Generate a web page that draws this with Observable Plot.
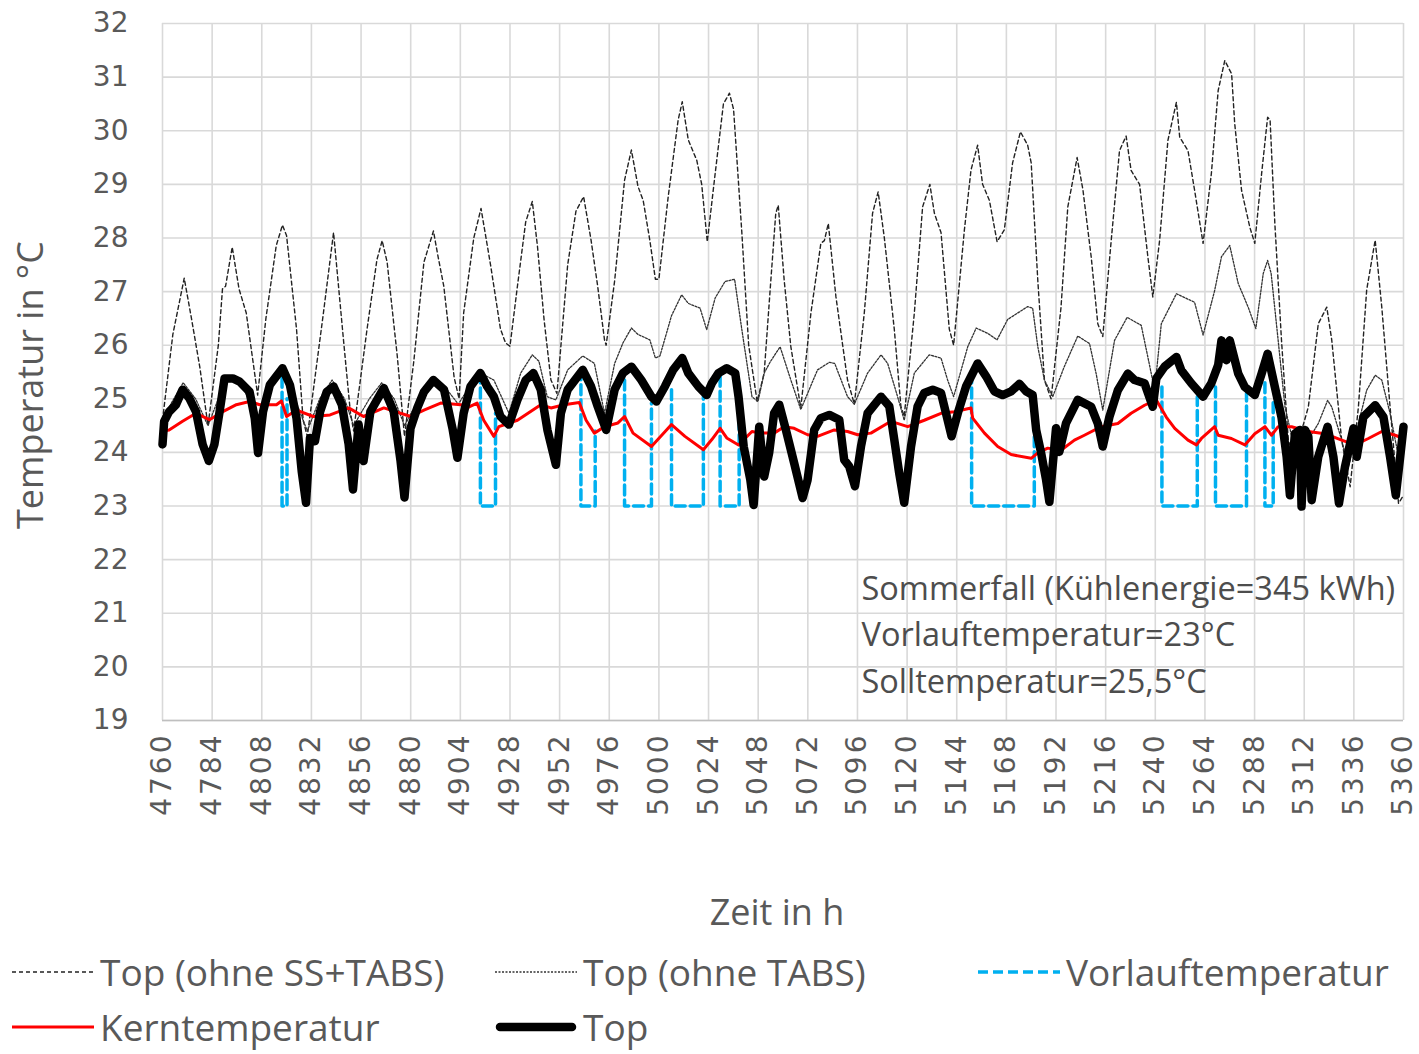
<!DOCTYPE html>
<html>
<head>
<meta charset="utf-8">
<script src="https://cdn.jsdelivr.net/npm/d3@7"></script>
<script src="https://cdn.jsdelivr.net/npm/@observablehq/plot@0.6"></script>
<style>
  body { margin: 0; background: #fff; }
  #chart { width: 1419px; }
  #chart svg { display: block; }
  g[aria-label="x-axis tick label"] text { letter-spacing: 3px; }
  .legend { position: relative; width: 1419px; height: 114px; font-family: "Open Sans", sans-serif; font-size: 37px; line-height: 40px; color: #595959; }
  .legend .item { position: absolute; display: flex; align-items: center; height: 40px; white-space: nowrap; }
  .legend svg { display: block; margin-right: 6px; }
</style>
</head>
<body>
<div id="chart"></div>
<script>
// Simulated hourly temperatures, summer case (hours 4760–5360)
const xTicks = d3.range(4760, 5361, 24);
const yTicks = d3.range(19, 33, 1);

// Top (ohne SS+TABS): operative temperature without sun shading and TABS
const ohneSSTabsHour = [4760,4765,4770.5,4774,4778,4782,4787,4789,4790.5,4793.7,4797,4800.5,4806,4810,4815,4818,4820,4824.8,4828,4830,4837.8,4842.7,4847.5,4850.8,4852.4,4858.9,4863.7,4866.2,4868.6,4873.5,4877,4881.5,4886.4,4891,4893,4896,4901,4903.4,4905.6,4910.5,4914,4918.6,4923.4,4925.9,4928,4931.6,4935.6,4938.8,4941.3,4944.5,4947.8,4950.7,4955.9,4959.9,4963.6,4967.2,4970.4,4973.7,4974.5,4978.6,4983.4,4986.7,4989.9,4992.4,4995.6,4998.3,5000,5004.5,5009.3,5011.3,5014.2,5018.3,5020.7,5023.4,5027.2,5031.2,5034.1,5036.1,5040.1,5043.4,5047.5,5050.9,5054.1,5056.5,5057.7,5060.6,5063.8,5068.6,5073.5,5078.3,5080,5081.9,5085.6,5091.2,5094.5,5099.3,5103.3,5106,5109,5113.8,5117,5118.6,5123.5,5127.5,5131,5133.2,5136.4,5140.4,5142.5,5147.7,5150.9,5154.1,5156.5,5159.8,5163.5,5167,5171,5174.8,5178.3,5180,5183.2,5186.4,5189.6,5194.4,5197.7,5202.2,5205,5209,5212.2,5214.6,5218.7,5222.7,5225.9,5228.3,5232.4,5236.4,5238.8,5242.1,5246.1,5250.2,5251.8,5255.8,5259,5263.1,5267.1,5270.4,5273.6,5276.9,5278.4,5281.7,5285.7,5288.1,5291.4,5294.3,5295.5,5297.8,5301,5304.3,5307,5314,5318.8,5322.9,5325.3,5330.1,5334.2,5338.2,5342.2,5346.3,5349.5,5353.5,5357.6,5360];
const ohneSSTabsTemp = [24.6,26.2,27.25,26.5,25.6,24.5,26.0,27.05,27.1,27.83,27.05,26.6,25.07,26.5,27.86,28.24,28.04,26.3,24.6,24.3,26.6,28.1,26.1,24.76,24.4,26.3,27.6,27.95,27.55,25.8,24.3,25.7,27.55,28.13,27.7,27.1,25.4,25.0,26.6,28.0,28.55,27.5,26.3,26.04,25.98,27.1,28.3,28.68,27.84,26.47,25.35,25.1,27.5,28.5,28.77,27.96,27.1,26.1,26.0,27.2,29.08,29.64,28.96,28.7,27.96,27.23,27.23,28.77,30.2,30.54,29.83,29.45,29.0,27.93,29.2,30.5,30.7,30.4,28.1,26.0,24.95,25.48,27.2,28.46,28.61,27.2,25.97,24.83,26.6,27.9,27.95,28.27,26.9,25.35,24.9,26.6,28.46,28.86,28.0,26.3,24.86,24.67,26.6,28.58,29.0,28.46,28.1,26.3,26.0,28.15,29.27,29.73,29.0,28.7,27.93,28.15,29.4,29.98,29.73,29.4,27.2,25.35,25.0,26.7,28.58,29.5,28.9,27.65,26.4,26.16,27.96,29.63,29.9,29.26,29.0,27.65,26.9,27.96,29.82,30.53,29.88,29.63,28.89,27.9,29.2,30.75,31.31,31.06,30.13,28.89,28.2,27.9,29.2,30.25,30.2,28.27,26.1,24.23,23.9,24.85,26.4,26.71,26.1,24.23,23.36,24.85,27.03,27.96,26.71,24.85,23.05,23.2];

// Top (ohne TABS): operative temperature without TABS
const ohneTabsHour = [4760,4764,4770,4776,4782,4787,4792,4798,4806,4812,4818,4824,4830,4836,4842,4848,4852.4,4860,4866,4872,4877,4884,4891,4897,4903,4908,4913.7,4920.2,4927.5,4933.2,4938.8,4942,4946,4950.2,4955.9,4963.2,4968.8,4973.7,4978.6,4982.6,4986.7,4989.9,4995.6,4998.3,5000.5,5006.1,5011,5014.2,5019.9,5023.1,5027.2,5032,5036.6,5040.1,5045,5047.9,5050.9,5054,5058.6,5063.8,5068.6,5076.7,5082.4,5085,5091.2,5094.5,5100.9,5107.4,5110.6,5115.4,5118.6,5123.5,5130.7,5136.4,5139.6,5142.5,5149.3,5153.4,5159,5163.5,5168.6,5178.3,5180.7,5183.2,5186.4,5190.4,5196,5202.5,5208.2,5211.4,5214.6,5220.3,5226.4,5233.2,5236.4,5239.7,5242.9,5250.2,5259,5263.1,5268.7,5272,5276,5280.1,5284.9,5288.6,5292.2,5294.3,5296,5299.4,5302.7,5307.5,5314,5318.8,5323.3,5325.3,5330.1,5333.4,5338.2,5342.2,5346.3,5349.5,5353.5,5357.6,5360];
const ohneTabsTemp = [24.5,24.9,25.3,25.0,24.5,25.0,25.4,25.3,24.6,25.2,25.6,25.0,24.4,25.0,25.35,25.0,24.5,25.0,25.3,25.0,24.5,25.0,25.4,25.2,24.9,25.2,25.48,25.35,24.73,25.48,25.82,25.7,25.04,24.98,25.54,25.8,25.66,24.73,25.66,26.04,26.32,26.2,26.1,25.76,25.8,26.55,26.94,26.78,26.69,26.29,26.88,27.19,27.23,26.29,25.04,24.95,25.48,25.7,25.97,25.35,24.8,25.54,25.68,25.66,25.04,24.9,25.48,25.82,25.66,25.04,24.6,25.48,25.82,25.76,25.35,25.04,25.97,26.32,26.22,26.1,26.48,26.72,26.69,25.97,25.35,25.04,25.6,26.17,26.03,25.47,24.79,26.09,26.52,26.37,25.78,25.16,26.4,26.96,26.8,26.19,27.02,27.65,27.86,27.15,26.71,26.31,27.34,27.58,27.34,26.09,24.85,24.04,24.23,24.54,24.97,24.85,24.23,23.73,24.54,25.16,25.44,25.35,24.73,23.92,24.1];

// Kerntemperatur: TABS core temperature
const kernHour = [4760,4763.2,4769.7,4776.2,4782.7,4789.2,4795.7,4802.1,4807,4815.1,4817.5,4820,4824.8,4832.9,4841,4850,4857.2,4867,4880,4886.4,4894.5,4904.2,4907.2,4912.1,4915.3,4920.2,4922.6,4931.6,4942.9,4947.8,4954.2,4961.5,4964.8,4968.8,4973.7,4980.2,4983.4,4987.5,4996.4,5006.1,5012.6,5021.5,5025.6,5029.6,5032.8,5038.5,5045,5049.3,5055.7,5060.6,5065.4,5071.9,5076.7,5084.8,5091.2,5096.1,5102.5,5112.2,5120.3,5128.3,5136.4,5142.8,5150.9,5151.7,5157.4,5163.8,5170.3,5180,5183.2,5188,5194.4,5200.9,5205.7,5213.8,5221.9,5228.3,5234.8,5240.5,5245.3,5249.4,5255.8,5259.9,5262.3,5268.7,5270.4,5276.8,5283.3,5288.1,5293,5296.2,5299.4,5305.9,5314,5322,5330.1,5336.6,5343,5349.5,5356,5360];
const kernTemp = [24.4,24.42,24.58,24.73,24.61,24.76,24.89,24.95,24.89,24.89,24.96,24.67,24.79,24.67,24.7,24.83,24.67,24.83,24.67,24.79,24.92,24.89,24.83,24.92,24.6,24.3,24.48,24.6,24.89,24.83,24.89,24.93,24.6,24.36,24.48,24.55,24.67,24.36,24.11,24.52,24.3,24.05,24.24,24.45,24.27,24.14,24.39,24.36,24.36,24.48,24.45,24.33,24.3,24.42,24.39,24.33,24.36,24.58,24.48,24.6,24.73,24.76,24.83,24.64,24.36,24.11,23.96,23.89,23.99,24.08,24.04,24.23,24.32,24.48,24.54,24.73,24.88,24.98,24.66,24.45,24.23,24.14,24.26,24.48,24.32,24.26,24.14,24.35,24.48,24.32,24.48,24.48,24.39,24.35,24.23,24.14,24.26,24.39,24.32,24.26];

// Top: operative temperature with TABS cooling
const opHour = [4760,4760.8,4763.2,4766.5,4769.7,4773,4776.2,4779.4,4782.4,4785.1,4787.6,4790,4794,4797.3,4802.1,4804.6,4806.2,4808.6,4811.9,4818,4821.6,4824.8,4827.3,4829.4,4831.3,4833.7,4836.2,4839.4,4842.7,4846.7,4850,4852.1,4854,4854.8,4857.2,4860.5,4867,4871.8,4875.1,4877,4879.9,4883.2,4886.4,4891,4896.1,4900.2,4902.6,4905.6,4908.9,4913.7,4917,4920.2,4923.4,4927.5,4931.6,4935.6,4939.3,4942.9,4946.1,4950.2,4952.6,4955.9,4963.2,4967.2,4970.4,4974.5,4978.6,4982.6,4986.7,4991.5,4996.4,4998.8,5002.9,5006.9,5011.3,5014.2,5019.1,5023.1,5025.6,5028.8,5032.8,5036.9,5038.5,5041,5044.2,5045.8,5048.5,5050.9,5053.3,5055.7,5058.2,5061.4,5065.4,5069.5,5071.9,5075.1,5078.3,5082.4,5087.2,5089.6,5092,5094.8,5097.7,5100.9,5107.4,5111.4,5113.8,5116.2,5118.6,5121.9,5125.1,5128.3,5132.4,5136.4,5138.8,5141.5,5144.5,5148.5,5154.1,5158.2,5162.2,5166.2,5170.3,5174.3,5177.5,5180.7,5182.4,5184.8,5187.2,5188.8,5192,5193.6,5196.8,5202.5,5209,5212.2,5214.6,5217.8,5221.9,5226.7,5230,5234.8,5238.8,5240.5,5244.5,5250.2,5252.6,5257.4,5263.1,5267.1,5270.4,5272,5274.4,5276,5280.1,5283.3,5288.1,5291.4,5294.3,5297.8,5301,5303.5,5305.1,5307.5,5309.9,5310.7,5312.4,5314,5315.6,5318.8,5323.3,5326.1,5328.8,5331.7,5335.8,5337.4,5340.6,5346.3,5350.3,5353.5,5356.3,5358.4,5360];
const opTemp = [24.15,24.58,24.76,24.89,25.17,25.01,24.76,24.15,23.84,24.15,24.76,25.38,25.38,25.32,25.13,24.64,23.99,24.76,25.26,25.57,25.26,24.64,23.65,23.06,24.27,24.21,24.76,25.13,25.23,24.89,24.15,23.31,24.15,24.52,23.84,24.76,25.2,24.76,23.84,23.16,24.45,24.83,25.13,25.35,25.17,24.45,23.9,24.73,25.23,25.48,25.23,25.04,24.67,24.52,24.98,25.35,25.48,25.17,24.42,23.77,24.73,25.17,25.54,25.23,24.86,24.42,25.17,25.48,25.6,25.35,25.04,24.95,25.23,25.54,25.76,25.48,25.23,25.07,25.29,25.48,25.57,25.48,25.04,24.11,23.49,23.02,24.48,23.55,23.99,24.73,24.89,24.42,23.8,23.15,23.49,24.42,24.64,24.7,24.61,23.86,23.74,23.37,24.11,24.73,25.04,24.86,24.24,23.61,23.06,24.11,24.86,25.11,25.17,25.11,24.73,24.3,24.73,25.23,25.66,25.42,25.14,25.07,25.14,25.28,25.14,25.07,24.42,23.99,23.49,23.08,24.45,24.01,24.54,24.98,24.85,24.54,24.11,24.66,25.16,25.47,25.35,25.29,24.85,25.38,25.6,25.78,25.53,25.29,25.04,25.29,25.63,26.09,25.72,26.09,25.47,25.22,25.07,25.47,25.84,25.22,24.66,23.92,23.2,24.35,24.42,22.99,24.42,24.29,23.11,23.92,24.48,23.92,23.05,23.73,24.45,23.92,24.66,24.88,24.66,23.92,23.2,23.92,24.48];

// Vorlauftemperatur: supply temperature 23 °C during cooling periods
const vorlauf = 23;
const coolStart = [4817.8, 4913.7, 4962.3, 4983.4, 5006.1, 5029.6, 5151.2, 5243.2, 5269.1, 5293];
const coolEnd = [4820.2, 4921, 4969.2, 4996.4, 5021.5, 5038.8, 5181.5, 5260.3, 5284.1, 5297];
const levelBefore = [25.4, 25.48, 25.54, 25.35, 25.17, 25.42, 25.48, 25.22, 25.22, 25.3];
const levelAfter = [25.0, 24.73, 24.4, 24.92, 25.04, 25.3, 24.6, 25.04, 25.1, 25.0];

const annotation = ["Sommerfall (Kühlenergie=345 kWh)", "Vorlauftemperatur=23°C", "Solltemperatur=25,5°C"];

const series = (hours, temps) => hours.map((h, i) => ({hour: h, temp: temps[i]}));
const ohneSSTabs = series(ohneSSTabsHour, ohneSSTabsTemp);
const ohneTabs = series(ohneTabsHour, ohneTabsTemp);
const kern = series(kernHour, kernTemp);
const operative = series(opHour, opTemp);
const supply = coolStart.flatMap((s, i) => [
  {pulse: i, hour: s, temp: levelBefore[i]},
  {pulse: i, hour: s, temp: vorlauf},
  {pulse: i, hour: coolEnd[i], temp: vorlauf},
  {pulse: i, hour: coolEnd[i], temp: levelAfter[i]}
]);

const legendItems = [
  {label: "Top (ohne SS+TABS)", stroke: "#222", width: 1.4, dash: "4,3", cap: "butt"},
  {label: "Top (ohne TABS)", stroke: "#333", width: 1.3, dash: "2,1.5", cap: "butt"},
  {label: "Vorlauftemperatur", stroke: "#00B0F0", width: 3.5, dash: "10,5", cap: "butt"},
  {label: "Kerntemperatur", stroke: "#FF0000", width: 3, dash: null, cap: "butt"},
  {label: "Top", stroke: "#000", width: 8.5, dash: null, cap: "round"}
];

const grid = "#d9d9d9";
const chart = Plot.plot({
  width: 1419,
  height: 940,
  marginTop: 23,
  marginBottom: 220,
  marginLeft: 162,
  marginRight: 16,
  style: {fontFamily: "DejaVu Sans, sans-serif", color: "#595959", background: "#fff"},
  x: {domain: [4760, 5360]},
  y: {domain: [19, 32]},
  marks: [
    Plot.gridX(xTicks, {stroke: grid, strokeOpacity: 1, strokeWidth: 1.6}),
    Plot.gridY(yTicks, {stroke: grid, strokeOpacity: 1, strokeWidth: 1.6}),
    Plot.ruleY([19], {stroke: "#bfbfbf", strokeWidth: 1.6}),
    Plot.axisX(xTicks, {tickRotate: -90, tickSize: 0, tickPadding: 12, fontSize: 28, label: null, tickFormat: d => String(d)}),
    Plot.axisY(yTicks, {tickSize: 0, tickPadding: 34, fontSize: 28, label: null, tickFormat: d => String(d)}),
    Plot.text([annotation.join("\n")], {
      frameAnchor: "bottom-left", dx: 699, dy: -28, textAnchor: "start", lineAnchor: "bottom",
      lineHeight: 1.42, fontSize: 32.5, fontFamily: "Open Sans", fill: "#4d4d4d"
    }),
    Plot.line(ohneSSTabs, {x: "hour", y: "temp", stroke: "#222", strokeWidth: 1.4, strokeDasharray: "4,3"}),
    Plot.line(ohneTabs, {x: "hour", y: "temp", stroke: "#333", strokeWidth: 1.3, strokeDasharray: "2,1.5"}),
    Plot.line(supply, {x: "hour", y: "temp", z: "pulse", stroke: "#00B0F0", strokeWidth: 3.5, strokeDasharray: "10,5"}),
    Plot.line(kern, {x: "hour", y: "temp", stroke: "#FF0000", strokeWidth: 3}),
    Plot.line(operative, {x: "hour", y: "temp", stroke: "#000", strokeWidth: 8.5, strokeLinejoin: "round", strokeLinecap: "round"})
  ]
});

// axis titles
const svg = d3.select(chart);
svg.append("text")
  .attr("transform", "translate(43,385) rotate(-90)")
  .attr("text-anchor", "middle")
  .attr("font-family", "Open Sans")
  .attr("font-size", 36)
  .attr("fill", "#595959")
  .text("Temperatur in °C");
svg.append("text")
  .attr("x", 777).attr("y", 925)
  .attr("text-anchor", "middle")
  .attr("font-family", "Open Sans")
  .attr("font-size", 36)
  .attr("fill", "#595959")
  .text("Zeit in h");

document.getElementById("chart").append(chart);

// legend below the chart
const legend = d3.select("body").append("div").attr("class", "legend");
const cols = [12, 495, 978];
legendItems.forEach((d, i) => {
  const row = Math.floor(i / 3), col = i % 3;
  const item = legend.append("div").attr("class", "item")
    .style("left", cols[col] + "px")
    .style("top", (12 + row * 55) + "px");
  const s = item.append("svg").attr("width", 82).attr("height", 14);
  s.append("line")
    .attr("x1", d.cap === "round" ? 5 : 0).attr("x2", d.cap === "round" ? 77 : 82)
    .attr("y1", 7).attr("y2", 7)
    .attr("stroke", d.stroke).attr("stroke-width", d.width)
    .attr("stroke-dasharray", d.dash).attr("stroke-linecap", d.cap);
  item.append("span").text(d.label);
});
</script>
</body>
</html>
